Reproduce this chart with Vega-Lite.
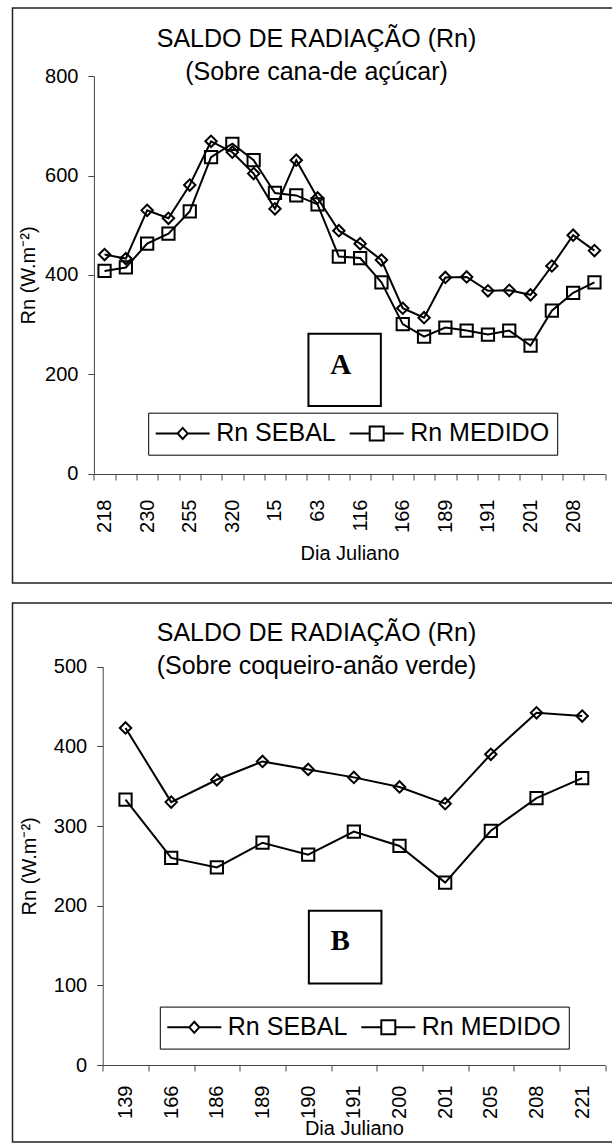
{
  "$schema": "https://vega.github.io/schema/vega-lite/v6.json",
  "padding": {"left": 1.5, "top": 7, "right": 0, "bottom": 0},
  "background": "white",
  "spacing": 18,
  "resolve": {"scale": {"shape": "independent"}, "legend": {"shape": "independent"}},
  "config": {
    "font": "Liberation Sans",
    "view": {"stroke": "#222", "strokeWidth": 1.5},
    "axis": {
      "domainColor": "#444", "tickColor": "#444", "domainWidth": 1, "tickWidth": 1,
      "labelColor": "black", "titleColor": "black",
      "labelFont": "Liberation Sans", "titleFont": "Liberation Sans",
      "labelFontSize": 20, "titleFontSize": 20, "titleFontWeight": "normal",
      "grid": false, "tickSize": 6
    },
    "legend": {
      "labelFont": "Liberation Sans", "labelFontSize": 25, "labelColor": "black", "labelLimit": 300,
      "symbolSize": 100, "symbolStrokeWidth": 2, "symbolStrokeColor": "black", "symbolFillColor": "white",
      "symbolOffset": 14, "labelOffset": 21, "columnPadding": 9, "padding": 8,
      "strokeColor": "black", "fillColor": "white"
    },
    "title": {"font": "Liberation Sans", "fontSize": 25, "fontWeight": "normal", "color": "black", "lineHeight": 33}
  },
  "datasets": {
    "cana": [
      {"ordem": 1, "dia": "218", "serie": "Rn SEBAL", "rn": 441}, {"ordem": 1, "dia": "218", "serie": "Rn MEDIDO", "rn": 408},
      {"ordem": 2, "dia": null, "serie": "Rn SEBAL", "rn": 433}, {"ordem": 2, "dia": null, "serie": "Rn MEDIDO", "rn": 415},
      {"ordem": 3, "dia": "230", "serie": "Rn SEBAL", "rn": 530}, {"ordem": 3, "dia": "230", "serie": "Rn MEDIDO", "rn": 463},
      {"ordem": 4, "dia": null, "serie": "Rn SEBAL", "rn": 514}, {"ordem": 4, "dia": null, "serie": "Rn MEDIDO", "rn": 483},
      {"ordem": 5, "dia": "255", "serie": "Rn SEBAL", "rn": 581}, {"ordem": 5, "dia": "255", "serie": "Rn MEDIDO", "rn": 528},
      {"ordem": 6, "dia": null, "serie": "Rn SEBAL", "rn": 669}, {"ordem": 6, "dia": null, "serie": "Rn MEDIDO", "rn": 637},
      {"ordem": 7, "dia": "320", "serie": "Rn SEBAL", "rn": 647}, {"ordem": 7, "dia": "320", "serie": "Rn MEDIDO", "rn": 664},
      {"ordem": 8, "dia": null, "serie": "Rn SEBAL", "rn": 604}, {"ordem": 8, "dia": null, "serie": "Rn MEDIDO", "rn": 631},
      {"ordem": 9, "dia": "15", "serie": "Rn SEBAL", "rn": 533}, {"ordem": 9, "dia": "15", "serie": "Rn MEDIDO", "rn": 565},
      {"ordem": 10, "dia": null, "serie": "Rn SEBAL", "rn": 631}, {"ordem": 10, "dia": null, "serie": "Rn MEDIDO", "rn": 560},
      {"ordem": 11, "dia": "63", "serie": "Rn SEBAL", "rn": 555}, {"ordem": 11, "dia": "63", "serie": "Rn MEDIDO", "rn": 542},
      {"ordem": 12, "dia": null, "serie": "Rn SEBAL", "rn": 489}, {"ordem": 12, "dia": null, "serie": "Rn MEDIDO", "rn": 437},
      {"ordem": 13, "dia": "116", "serie": "Rn SEBAL", "rn": 463}, {"ordem": 13, "dia": "116", "serie": "Rn MEDIDO", "rn": 434},
      {"ordem": 14, "dia": null, "serie": "Rn SEBAL", "rn": 430}, {"ordem": 14, "dia": null, "serie": "Rn MEDIDO", "rn": 385},
      {"ordem": 15, "dia": "166", "serie": "Rn SEBAL", "rn": 333}, {"ordem": 15, "dia": "166", "serie": "Rn MEDIDO", "rn": 301},
      {"ordem": 16, "dia": null, "serie": "Rn SEBAL", "rn": 314}, {"ordem": 16, "dia": null, "serie": "Rn MEDIDO", "rn": 276},
      {"ordem": 17, "dia": "189", "serie": "Rn SEBAL", "rn": 395}, {"ordem": 17, "dia": "189", "serie": "Rn MEDIDO", "rn": 294},
      {"ordem": 18, "dia": null, "serie": "Rn SEBAL", "rn": 396}, {"ordem": 18, "dia": null, "serie": "Rn MEDIDO", "rn": 288},
      {"ordem": 19, "dia": "191", "serie": "Rn SEBAL", "rn": 368}, {"ordem": 19, "dia": "191", "serie": "Rn MEDIDO", "rn": 280},
      {"ordem": 20, "dia": null, "serie": "Rn SEBAL", "rn": 369}, {"ordem": 20, "dia": null, "serie": "Rn MEDIDO", "rn": 288},
      {"ordem": 21, "dia": "201", "serie": "Rn SEBAL", "rn": 360}, {"ordem": 21, "dia": "201", "serie": "Rn MEDIDO", "rn": 258},
      {"ordem": 22, "dia": null, "serie": "Rn SEBAL", "rn": 418}, {"ordem": 22, "dia": null, "serie": "Rn MEDIDO", "rn": 328},
      {"ordem": 23, "dia": "208", "serie": "Rn SEBAL", "rn": 480}, {"ordem": 23, "dia": "208", "serie": "Rn MEDIDO", "rn": 364},
      {"ordem": 24, "dia": null, "serie": "Rn SEBAL", "rn": 449}, {"ordem": 24, "dia": null, "serie": "Rn MEDIDO", "rn": 385}
    ],
    "coqueiro": [
      {"dia": "139", "serie": "Rn SEBAL", "rn": 423}, {"dia": "139", "serie": "Rn MEDIDO", "rn": 333},
      {"dia": "166", "serie": "Rn SEBAL", "rn": 330}, {"dia": "166", "serie": "Rn MEDIDO", "rn": 260},
      {"dia": "186", "serie": "Rn SEBAL", "rn": 358}, {"dia": "186", "serie": "Rn MEDIDO", "rn": 248},
      {"dia": "189", "serie": "Rn SEBAL", "rn": 381}, {"dia": "189", "serie": "Rn MEDIDO", "rn": 279},
      {"dia": "190", "serie": "Rn SEBAL", "rn": 371}, {"dia": "190", "serie": "Rn MEDIDO", "rn": 264},
      {"dia": "191", "serie": "Rn SEBAL", "rn": 361}, {"dia": "191", "serie": "Rn MEDIDO", "rn": 293},
      {"dia": "200", "serie": "Rn SEBAL", "rn": 349}, {"dia": "200", "serie": "Rn MEDIDO", "rn": 275},
      {"dia": "201", "serie": "Rn SEBAL", "rn": 328}, {"dia": "201", "serie": "Rn MEDIDO", "rn": 229},
      {"dia": "205", "serie": "Rn SEBAL", "rn": 390}, {"dia": "205", "serie": "Rn MEDIDO", "rn": 294},
      {"dia": "208", "serie": "Rn SEBAL", "rn": 442}, {"dia": "208", "serie": "Rn MEDIDO", "rn": 335},
      {"dia": "221", "serie": "Rn SEBAL", "rn": 438}, {"dia": "221", "serie": "Rn MEDIDO", "rn": 360}
    ],
    "rotuloA": [{"ordem": 12, "rn": 209, "rotulo": "A"}],
    "rotuloB": [{"dia": "191", "rn": 148, "rotulo": "B"}]
  },
  "vconcat": [
    {
      "width": 601,
      "height": 575,
      "data": {"name": "cana"},
      "title": {"text": ["SALDO DE RADIAÇÃO (Rn)", "(Sobre cana-de açúcar)"], "anchor": "middle", "frame": "group", "offset": -77, "dx": 3.5},
      "encoding": {
        "x": {
          "field": "ordem", "type": "ordinal", "bandPosition": 0.5,
          "scale": {"type": "band", "range": [81.4, 592.6], "paddingInner": 0, "paddingOuter": 0},
          "axis": {
            "title": "Dia Juliano", "offset": -109, "tickBand": "extent", "labelAngle": 270,
            "labelPadding": 19, "titlePadding": 11, "labelOverlap": false,
            "labelExpr": "['218','','230','','255','','320','','15','','63','','116','','166','','189','','191','','201','','208',''][datum.value - 1]"
          }
        },
        "y": {
          "field": "rn", "type": "quantitative",
          "scale": {"domain": [0, 800], "range": [465.7, 68.2], "nice": false},
          "axis": {"title": "Rn (W.m⁻²)", "offset": -81.4, "values": [0, 200, 400, 600, 800], "labelPadding": 10, "titlePadding": 6}
        }
      },
      "layer": [
        {"mark": {"type": "line", "color": "black", "strokeWidth": 2}, "encoding": {"detail": {"field": "serie"}}},
        {"transform": [{"filter": "datum.serie == 'Rn SEBAL'"}],
         "mark": {"type": "point", "shape": "diamond", "size": 130, "filled": false, "stroke": "black", "strokeWidth": 2, "opacity": 1}},
        {"transform": [{"filter": "datum.serie == 'Rn MEDIDO'"}],
         "mark": {"type": "point", "shape": "square", "size": 150, "filled": false, "stroke": "black", "strokeWidth": 2, "opacity": 1}},
        {"transform": [{"filter": "false"}],
         "mark": {"type": "point", "filled": false, "stroke": "black", "strokeWidth": 2, "opacity": 1},
         "encoding": {
           "shape": {
             "field": "serie", "type": "nominal",
             "scale": {"domain": ["Rn SEBAL", "Rn MEDIDO"], "range": ["M-5.4,0L-1,0M-1,0L0,-1.1L1,0L0,1.1ZM1,0L5.4,0", "M-5.4,0L-1.4,0M-1.4,-1.4L1.4,-1.4L1.4,1.4L-1.4,1.4ZM1.4,0L5.4,0"]},
             "legend": {"title": null, "orient": "none", "legendX": 135.7, "legendY": 404.7, "direction": "horizontal"}
           }
         }},
        {"data": {"name": "rotuloA"},
         "mark": {"type": "point", "shape": "square", "size": 5242, "filled": false, "fill": "white", "stroke": "black", "strokeWidth": 2, "opacity": 1, "xOffset": 5.8}},
        {"data": {"name": "rotuloA"},
         "mark": {"type": "text", "font": "Liberation Serif", "fontSize": 29, "fontWeight": "bold", "baseline": "middle", "align": "center", "color": "black", "xOffset": 1.8, "yOffset": -4.5},
         "encoding": {"text": {"field": "rotulo"}}}
      ]
    },
    {
      "width": 601,
      "height": 539,
      "data": {"name": "coqueiro"},
      "title": {"text": ["SALDO DE RADIAÇÃO (Rn)", "(Sobre coqueiro-anão verde)"], "anchor": "middle", "frame": "group", "offset": -76, "dx": 3.5},
      "encoding": {
        "x": {
          "field": "dia", "type": "ordinal", "bandPosition": 0.5,
          "scale": {"type": "band", "range": [90.2, 592.5], "paddingInner": 0, "paddingOuter": 0},
          "axis": {"title": "Dia Juliano", "offset": -77, "tickBand": "extent", "labelAngle": 270, "labelPadding": 14, "titlePadding": 0, "labelOverlap": false}
        },
        "y": {
          "field": "rn", "type": "quantitative",
          "scale": {"domain": [0, 500], "range": [462.1, 63.6], "nice": false},
          "axis": {"title": "Rn (W.m⁻²)", "offset": -90.2, "values": [0, 100, 200, 300, 400, 500], "labelPadding": 10, "titlePadding": 14}
        }
      },
      "layer": [
        {"mark": {"type": "line", "color": "black", "strokeWidth": 2}, "encoding": {"detail": {"field": "serie"}}},
        {"transform": [{"filter": "datum.serie == 'Rn SEBAL'"}],
         "mark": {"type": "point", "shape": "diamond", "size": 130, "filled": false, "stroke": "black", "strokeWidth": 2, "opacity": 1}},
        {"transform": [{"filter": "datum.serie == 'Rn MEDIDO'"}],
         "mark": {"type": "point", "shape": "square", "size": 150, "filled": false, "stroke": "black", "strokeWidth": 2, "opacity": 1}},
        {"transform": [{"filter": "false"}],
         "mark": {"type": "point", "filled": false, "stroke": "black", "strokeWidth": 2, "opacity": 1},
         "encoding": {
           "shape": {
             "field": "serie", "type": "nominal",
             "scale": {"domain": ["Rn SEBAL", "Rn MEDIDO"], "range": ["M-5.4,0L-1,0M-1,0L0,-1.1L1,0L0,1.1ZM1,0L5.4,0", "M-5.4,0L-1.4,0M-1.4,-1.4L1.4,-1.4L1.4,1.4L-1.4,1.4ZM1.4,0L5.4,0"]},
             "legend": {"title": null, "orient": "none", "legendX": 147.3, "legendY": 403.6, "direction": "horizontal"}
           }
         }},
        {"data": {"name": "rotuloB"},
         "mark": {"type": "point", "shape": "square", "size": 5270, "filled": false, "fill": "white", "stroke": "black", "strokeWidth": 2, "opacity": 1, "xOffset": -8.7}},
        {"data": {"name": "rotuloB"},
         "mark": {"type": "text", "font": "Liberation Serif", "fontSize": 29, "fontWeight": "bold", "baseline": "middle", "align": "center", "color": "black", "xOffset": -13.7, "yOffset": -5.8},
         "encoding": {"text": {"field": "rotulo"}}}
      ]
    }
  ]
}
